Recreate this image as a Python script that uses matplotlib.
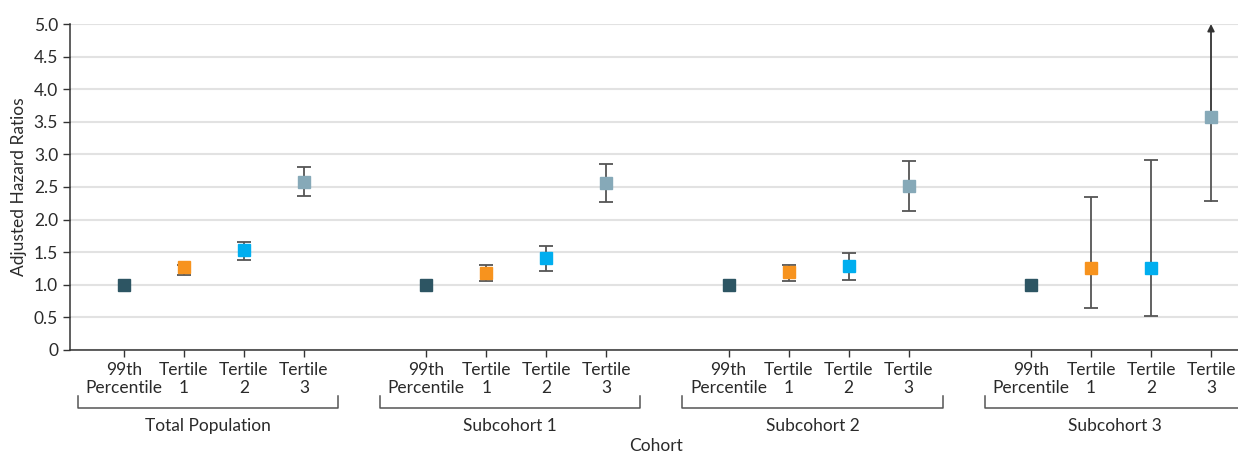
import matplotlib
matplotlib.use('Agg')
import matplotlib.pyplot as plt
import numpy as np

plt.rcParams['font.family'] = ['Lato', 'DejaVu Sans']
plt.rcParams['font.size'] = 12

cohorts = ['Total Population', 'Subcohort 1', 'Subcohort 2', 'Subcohort 3']
levels = ['99th\nPercentile', 'Tertile\n1', 'Tertile\n2', 'Tertile\n3']
colors = ['#2d5563', '#f7931e', '#00aeef', '#86a9b8']

# hazard ratios per cohort, order: 99th, T1, T2, T3
hr = [[1.0, 1.27, 1.53, 2.58],
      [1.0, 1.18, 1.41, 2.56],
      [1.0, 1.19, 1.29, 2.52],
      [1.0, 1.25, 1.25, 3.57]]
ci_low = [[1.0, 1.15, 1.38, 2.36],
          [1.0, 1.06, 1.21, 2.27],
          [1.0, 1.06, 1.07, 2.13],
          [1.0, 0.65, 0.52, 2.29]]
ci_high = [[1.0, 1.31, 1.66, 2.80],
           [1.0, 1.30, 1.59, 2.86],
           [1.0, 1.30, 1.49, 2.90],
           [1.0, 2.34, 2.91, 5.0]]
# upper limit runs off the chart
off_chart = [[False] * 4, [False] * 4, [False] * 4, [False, False, False, True]]

group_step = 5.04
err_col = '#555555'
txt_col = '#2a2a2a'

fig = plt.figure(figsize=(12.38, 4.53), dpi=100)
ax = fig.add_axes([0.0565, 0.2274, 0.9435, 0.7196])

xs_all, labels_all = [], []
for g, name in enumerate(cohorts):
    xs = g * group_step + np.arange(4)
    for i in range(4):
        x = xs[i]
        y, lo, hi = hr[g][i], ci_low[g][i], ci_high[g][i]
        if i > 0:
            if off_chart[g][i]:
                ax.plot([x, x], [lo, y], color=err_col, lw=1.3, zorder=2)
                ax.plot(x, lo, marker='_', ms=9.5, mew=1.3, color=err_col, zorder=2)
                ax.annotate('', xy=(x, hi), xytext=(x, y),
                            arrowprops=dict(arrowstyle='-|>', color='#333333', lw=1.3,
                                            mutation_scale=10, shrinkA=0, shrinkB=0), zorder=2)
            else:
                ax.errorbar(x, y, yerr=[[y - lo], [hi - y]], fmt='none',
                            ecolor=err_col, elinewidth=1.3, capsize=4.7, capthick=1.3, zorder=2)
        ax.plot(x, y, marker='s', ms=8.2, color=colors[i], ls='none', zorder=3)
    xs_all.extend(xs)
    labels_all.extend(levels)

    # bracket under each cohort
    trans = ax.get_xaxis_transform()
    left, right = xs[0] - 0.77, xs[-1] + 0.57
    ax.plot([left, left, right, right], [-0.141, -0.178, -0.178, -0.141],
            transform=trans, color=err_col, lw=1.1, clip_on=False)
    ax.text((left + right) / 2, -0.233, name, transform=trans, ha='center', va='center',
            fontsize=12.5, color=txt_col)

ax.set_xticks(xs_all)
ax.set_xticklabels(labels_all, linespacing=1.1)
ax.set_xlim(-0.9, 3 * group_step + 3 + 0.45)
ax.set_ylim(0, 5.0)
yt = np.arange(0, 5.01, 0.5)
ax.set_yticks(yt)
ax.set_yticklabels(['0'] + [f'{v:.1f}' for v in yt[1:]])
ax.yaxis.grid(True, color='#e2e2e2', lw=1.5)
ax.set_axisbelow(True)

for s in ['top', 'right']:
    ax.spines[s].set_visible(False)
for s in ['left', 'bottom']:
    ax.spines[s].set_color('#333333')
    ax.spines[s].set_linewidth(1.1)
ax.tick_params(axis='both', colors='#333333', labelcolor=txt_col, length=5, width=1.0, labelsize=12.5)
ax.tick_params(axis='x', pad=4)

ax.set_ylabel('Adjusted Hazard Ratios', fontsize=12.5, color=txt_col, labelpad=5)
fig.text(0.53, 0.015, 'Cohort', ha='center', va='center', fontsize=12.5, color=txt_col,
         transform=fig.transFigure)
fig.texts[-1].set_position((0.53, 1 - 446 / 453))

fig.savefig('out.png', dpi=100)
